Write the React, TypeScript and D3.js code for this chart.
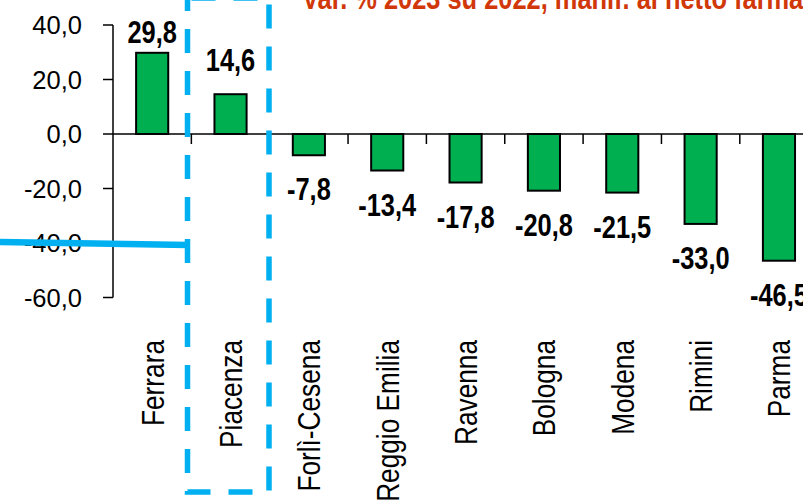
import React from "react";
import * as d3 from "d3";

const categories = [
  "Ferrara",
  "Piacenza",
  "Forlì-Cesena",
  "Reggio Emilia",
  "Ravenna",
  "Bologna",
  "Modena",
  "Rimini",
  "Parma",
];
const values = [29.8, 14.6, -7.8, -13.4, -17.8, -20.8, -21.5, -33.0, -46.5];
const yTicks = [40, 20, 0, -20, -40, -60];
const titleText = "Var. % 2023 su 2022, manif. al netto farmaceutica";

const W = 803;
const H = 503;
const NARROW = 0.82;
const fmt = (v: number) => d3.format(".1f")(v).replace(".", ",").replace("−", "-");

export default function App() {
  const axisX = 113;
  const step = 78.35;
  const x = d3
    .scaleBand<string>()
    .domain(categories)
    .range([axisX, axisX + step * categories.length])
    .paddingInner(0.59)
    .paddingOuter(0.295);
  const y = d3.scaleLinear().domain([-60, 40]).range([297.5, 25]);
  const y0 = y(0);
  const bw = x.bandwidth();

  const font = "'Liberation Sans', Arial, sans-serif";

  return (
    <svg
      width={W}
      height={H}
      style={{ position: "absolute", left: 0, top: 0, background: "#fff" }}
      overflow="hidden"
    >
      <rect x={0} y={0} width={W} height={H} fill="#fff" />
      {/* title (cropped) */}
      <text
        transform={`translate(302,9) scale(${NARROW},1)`}
        fontFamily={font}
        fontWeight="bold"
        fontSize={31}
        fill="#D0380A"
      >
        {titleText}
      </text>

      {/* y axis */}
      <line x1={axisX} x2={axisX} y1={y(40)} y2={y(-60)} stroke="#000" strokeWidth={1.5} />
      {yTicks.map((t) => (
        <g key={t}>
          <line x1={axisX - 10} x2={axisX} y1={y(t)} y2={y(t)} stroke="#000" strokeWidth={1.5} />
          <text
            x={82}
            y={y(t)}
            dy="0.36em"
            textAnchor="end"
            fontFamily={font}
            fontSize={25.5}
            fill="#000"
          >
            {fmt(t)}
          </text>
        </g>
      ))}

      {/* bars */}
      {categories.map((c, i) => {
        const v = values[i];
        const top = Math.min(y(v), y0);
        const h = Math.abs(y(v) - y0);
        return (
          <rect
            key={c}
            x={x(c)!}
            y={top}
            width={bw}
            height={h}
            fill="#00B050"
            stroke="#000"
            strokeWidth={2}
          />
        );
      })}

      {/* x axis */}
      <line x1={axisX} x2={W + 20} y1={y0} y2={y0} stroke="#000" strokeWidth={1.5} />
      {categories.map((c, i) => {
        const tx = axisX + x.step() * (i + 1);
        return <line key={"t" + c} x1={tx} x2={tx} y1={y0} y2={y0 + 10} stroke="#000" strokeWidth={1.5} />;
      })}

      {/* value labels */}
      {categories.map((c, i) => {
        const v = values[i];
        const cx = x(c)! + bw / 2;
        const by = v >= 0 ? Math.max(y(v) - 23, y(40) + 18) : y(v) + 45;
        return (
          <text
            key={"v" + c}
            transform={`translate(${cx},${by}) scale(${NARROW},1)`}
            textAnchor="middle"
            fontFamily={font}
            fontWeight="bold"
            fontSize={31}
            fill="#000"
          >
            {fmt(v)}
          </text>
        );
      })}

      {/* category labels */}
      {categories.map((c) => {
        const cx = x(c)! + bw / 2 + 11.5;
        return (
          <text
            key={"c" + c}
            transform={`translate(${cx},340) rotate(-90) scale(${NARROW},1)`}
            textAnchor="end"
            fontFamily={font}
            fontSize={32}
            fill="#000"
          >
            {c}
          </text>
        );
      })}

      {/* annotation: dashed highlight box and connector */}
      <rect
        x={187.5}
        y={-2}
        width={81.5}
        height={494}
        fill="none"
        stroke="#00B0F0"
        strokeWidth={5.5}
        strokeDasharray="24 18"
        strokeDashoffset={-4}
      />
      <line x1={0} y1={242} x2={189} y2={245} stroke="#00B0F0" strokeWidth={6.5} />
    </svg>
  );
}
